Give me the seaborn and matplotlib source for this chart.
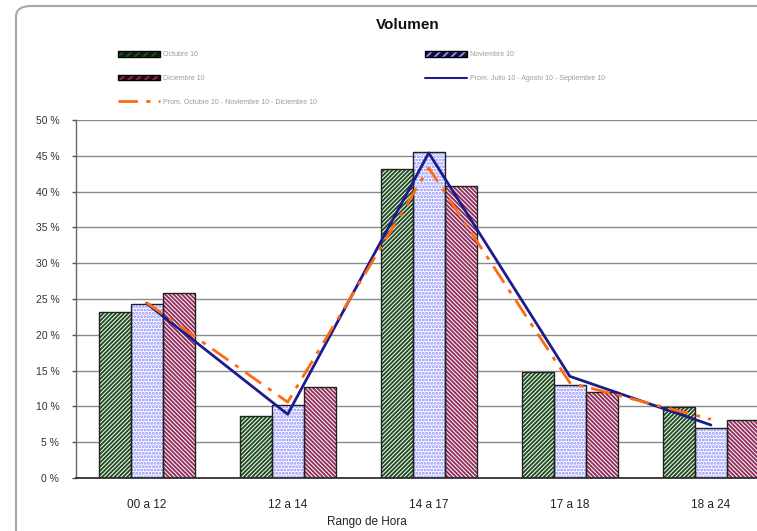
import numpy as np
import pandas as pd
import matplotlib
matplotlib.use("Agg")
import matplotlib.pyplot as plt
import seaborn as sns
from matplotlib.patches import Rectangle, Patch, FancyBboxPatch
from matplotlib.lines import Line2D
from matplotlib.legend_handler import HandlerTuple

# --- data (percent) ---
rangos = ["00 a 12", "12 a 14", "14 a 17", "17 a 18", "18 a 24"]
octubre = [23.2, 8.7, 43.2, 14.8, 9.9]
noviembre = [24.3, 10.2, 45.5, 13.0, 7.0]
diciembre = [25.9, 12.7, 40.8, 12.0, 8.1]
prom_jas = [24.4, 8.9, 45.4, 14.2, 7.4]
prom_ond = [24.5, 10.6, 43.3, 13.3, 8.2]

meses = ["Octubre 10", "Noviembre 10", "Diciembre 10"]
hatch_colors = {"Octubre 10": "#224f22", "Noviembre 10": "#8a8aff", "Diciembre 10": "#92305e"}
hatches = {"Octubre 10": "/" * 8, "Noviembre 10": "." * 5, "Diciembre 10": "\\" * 8}
swatch_bg = {"Octubre 10": "#0d200d", "Noviembre 10": "#101030", "Diciembre 10": "#2a0a18"}

df = pd.DataFrame({
    "rango": rangos * 3,
    "valor": octubre + noviembre + diciembre,
    "mes": [m for m in meses for _ in rangos],
})

sns.set_style("white")
plt.rcParams["font.family"] = ["Liberation Sans", "DejaVu Sans"]
plt.rcParams["hatch.linewidth"] = 1.4

fig = plt.figure(figsize=(7.57, 5.31), dpi=100)
ax = fig.add_axes([76 / 757, 53 / 531, 705.5 / 757, 358 / 531])

sns.barplot(data=df, x="rango", y="valor", hue="mes", hue_order=meses,
            order=rangos, width=0.68, legend=False, ax=ax, saturation=1)

# hatch fill in the series colour, then a dark outline on top
n = len(rangos)
for i, bar in enumerate(list(ax.patches)):
    mes = meses[i // n]
    bar.set_facecolor("white")
    bar.set_hatch(hatches[mes])
    bar.set_edgecolor(hatch_colors[mes])
    bar.set_linewidth(0)
    ax.add_patch(Rectangle(bar.get_xy(), bar.get_width(), bar.get_height(),
                           fill=False, edgecolor="#222222", lw=1.0, zorder=3))

xs = np.arange(n)
sns.lineplot(x=xs, y=prom_jas, color="#1c1c8c", lw=2.0, ax=ax, zorder=5)
sns.lineplot(x=xs, y=prom_ond, color="#ff6a10", lw=2.0, ax=ax, zorder=6)
ax.lines[-1].set_dashes([7, 3, 1.5, 3])

ax.set_xlim(-0.5, n - 0.5)
ax.set_ylim(0, 50)
ax.set_yticks(np.arange(0, 51, 5))
ax.set_yticklabels([f"{v} %" for v in range(0, 51, 5)])
ax.yaxis.grid(True, color="#8a8a8a", lw=1.0)
ax.set_axisbelow(True)
ax.set_xticks(xs)
ax.set_xticklabels(rangos)
ax.set_xticks(np.arange(-0.5, n, 1), minor=True)
ax.tick_params(axis="x", which="major", length=0, pad=15, labelsize=8.5, labelcolor="#222222")
ax.tick_params(axis="x", which="minor", length=4, width=1, color="#555555", direction="out")
ax.tick_params(axis="y", length=3, width=1, color="#555555", direction="out",
               pad=9, labelsize=7.5, labelcolor="#333333", left=True)
ax.set_xlabel("")
ax.set_ylabel("")
for side in ["top", "right"]:
    ax.spines[side].set_visible(False)
ax.spines["left"].set_color("#666666")
ax.spines["bottom"].set_color("#222222")
ax.spines["left"].set_linewidth(1.0)
ax.spines["bottom"].set_linewidth(1.2)

fig.text(367 / 757, 1 - 522 / 531, "Rango de Hora", ha="center", va="center",
         fontsize=8.5, color="#222222")
fig.text(408 / 757, 1 - 25 / 531, "Volumen", ha="center", va="center",
         fontsize=11, fontweight="bold", color="#111111")

# rounded chart-area border
fig.patches.append(FancyBboxPatch((16 / 757, -0.2), 1.2, 1.2 - 6 / 531,
                                  boxstyle="round,pad=0,rounding_size=0.02",
                                  transform=fig.transFigure, fill=False,
                                  edgecolor="#a8a8a8", lw=1.5, figure=fig))


def swatch(mes):
    return (Patch(facecolor=swatch_bg[mes], edgecolor=hatch_colors[mes],
                  hatch="////", lw=0),
            Patch(facecolor="none", edgecolor="black", lw=1.0))


handles = [swatch("Octubre 10"), swatch("Diciembre 10"),
           Line2D([], [], color="#ff6a10", lw=2, dashes=[7, 3, 1.5, 3]),
           swatch("Noviembre 10"),
           Line2D([], [], color="#1c1c8c", lw=1.5)]
labels = ["Octubre 10", "Diciembre 10",
          "Prom. Octubre 10 - Noviembre 10 - Diciembre 10",
          "Noviembre 10", "Prom. Julio 10 - Agosto 10 - Septiembre 10"]
leg = fig.legend(handles, labels, ncol=2, loc="upper left",
                 bbox_to_anchor=(112 / 757, 1 - 45 / 531), frameon=False,
                 fontsize=5, handlelength=6.0, handleheight=0.8,
                 handletextpad=0.5, labelspacing=2.4, columnspacing=15.5,
                 handler_map={tuple: HandlerTuple(ndivide=1)})
for t in leg.get_texts():
    t.set_color("#9a9a9a")

fig.savefig("out.png", dpi=100)
